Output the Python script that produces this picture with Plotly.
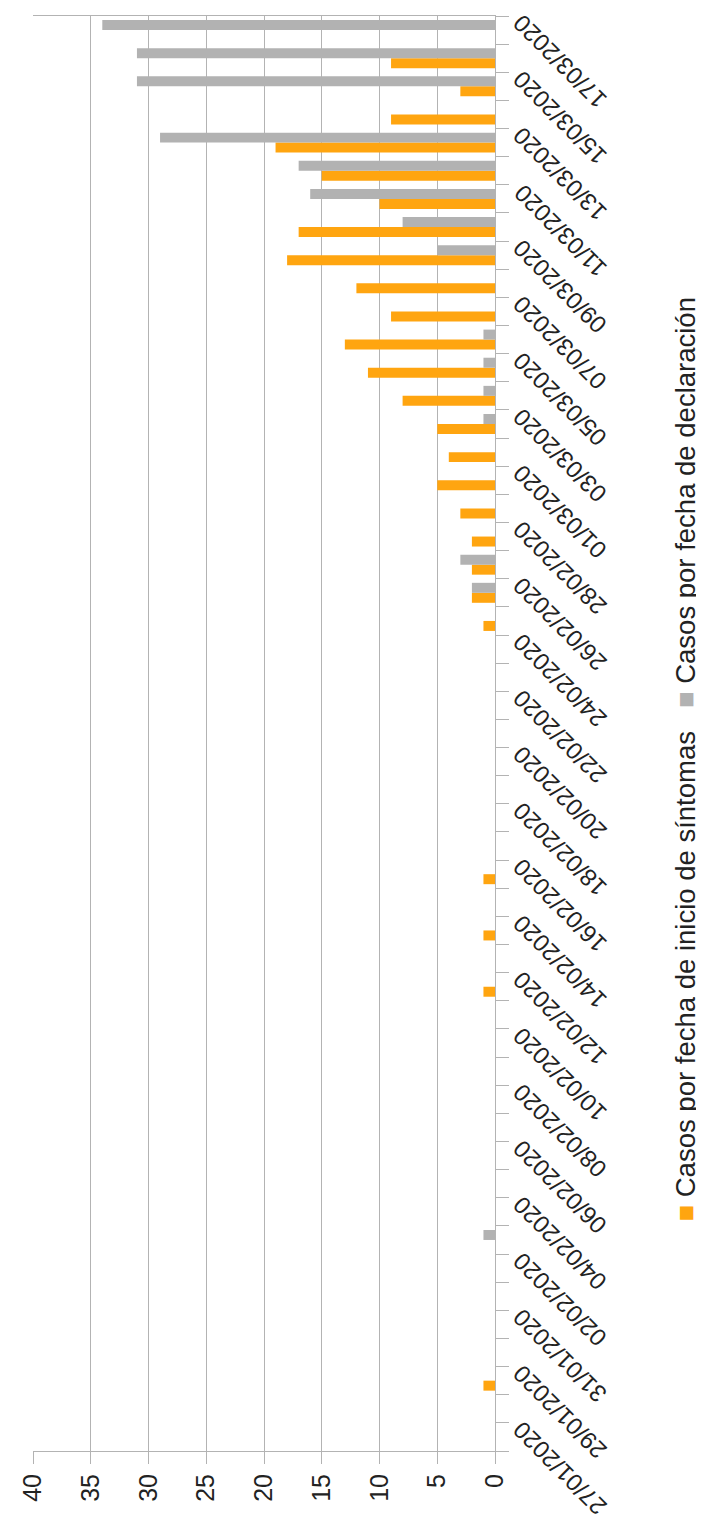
import pandas as pd
import plotly.graph_objects as go

# Categories: one per day, 27/01/2020 .. 17/03/2020
dates = [d.strftime("%d/%m/%Y") for d in pd.date_range("2020-01-27", "2020-03-17", freq="D")]
date_labels = [d if i % 2 == 0 else "" for i, d in enumerate(dates)]

# Casos por fecha de inicio de síntomas (orange)
inicio_sintomas = [0, 0, 1, 0, 0, 0, 0, 0, 0, 0,
                   0, 0, 0, 0, 0, 0, 1, 0, 1, 0,
                   1, 0, 0, 0, 0, 0, 0, 0, 0, 1,
                   2, 2, 2, 3, 5, 4, 5, 8, 11, 13,
                   9, 12, 18, 17, 10, 15, 19, 9, 3, 9,
                   0]
# Casos por fecha de declaración (grey)
declaracion = [0, 0, 0, 0, 0, 0, 0, 1, 0, 0,
               0, 0, 0, 0, 0, 0, 0, 0, 0, 0,
               0, 0, 0, 0, 0, 0, 0, 0, 0, 0,
               2, 3, 0, 0, 0, 0, 1, 1, 1, 1,
               0, 0, 5, 8, 16, 17, 29, 0, 31, 31,
               34]

value_ticks = [0, 5, 10, 15, 20, 25, 30, 35, 40]

name_orange = "Casos por fecha de inicio de síntomas"
name_grey = "Casos por fecha de declaración"
ORANGE = "#FFA510"
GREY = "#B2B2B2"
FONT = "Liberation Sans"

fig = go.Figure()
fig.add_trace(go.Bar(y=dates, x=inicio_sintomas, orientation="h", name=name_orange,
                     marker=dict(color=ORANGE, line=dict(width=0))))
fig.add_trace(go.Bar(y=dates, x=declaracion, orientation="h", name=name_grey,
                     marker=dict(color=GREY, line=dict(width=0))))

fig.update_layout(
    width=704, height=1526,
    margin=dict(l=25, r=217, t=8, b=83),
    paper_bgcolor="white", plot_bgcolor="white",
    barmode="group", bargap=0.29, bargroupgap=0,
    showlegend=False,
    font=dict(family=FONT, color="#222222"),
    xaxis=dict(range=[40, 0], tickmode="array", tickvals=value_ticks,
               ticktext=[str(v) for v in value_ticks], automargin=False,
               showgrid=True, gridcolor="#B3B3B3", gridwidth=1,
               zeroline=False, showline=True, linecolor="#B3B3B3", mirror=True,
               ticks="outside", ticklen=12, tickcolor="#B3B3B3",
               tickangle=-90, tickfont=dict(size=25, family=FONT, color="#222222")),
    yaxis=dict(type="category", categoryorder="array", categoryarray=dates,
               tickmode="array", tickvals=dates, ticktext=date_labels,
               range=[-0.5, len(dates) - 0.5], automargin=False,
               side="right", ticks="outside", ticklen=13, tickcolor="#B3B3B3",
               tickson="boundaries", showline=True, linecolor="#B3B3B3",
               showgrid=False, zeroline=False,
               tickangle=-135, ticklabelstandoff=99, ticklabelshift=80,
               tickfont=dict(size=24, family=FONT, color="#222222")),
)

legend_text = (f"<span style='color:{ORANGE}'>■</span> {name_orange}"
               f"   <span style='color:{GREY}'>■</span> {name_grey}")
fig.add_annotation(text=legend_text, xref="paper", yref="paper",
                   x=(694 - 25) / 462, y=(1443 - 752) / 1435,
                   textangle=-90, showarrow=False,
                   font=dict(size=27.5, family=FONT, color="#222222"))

fig.write_html("out.html")
